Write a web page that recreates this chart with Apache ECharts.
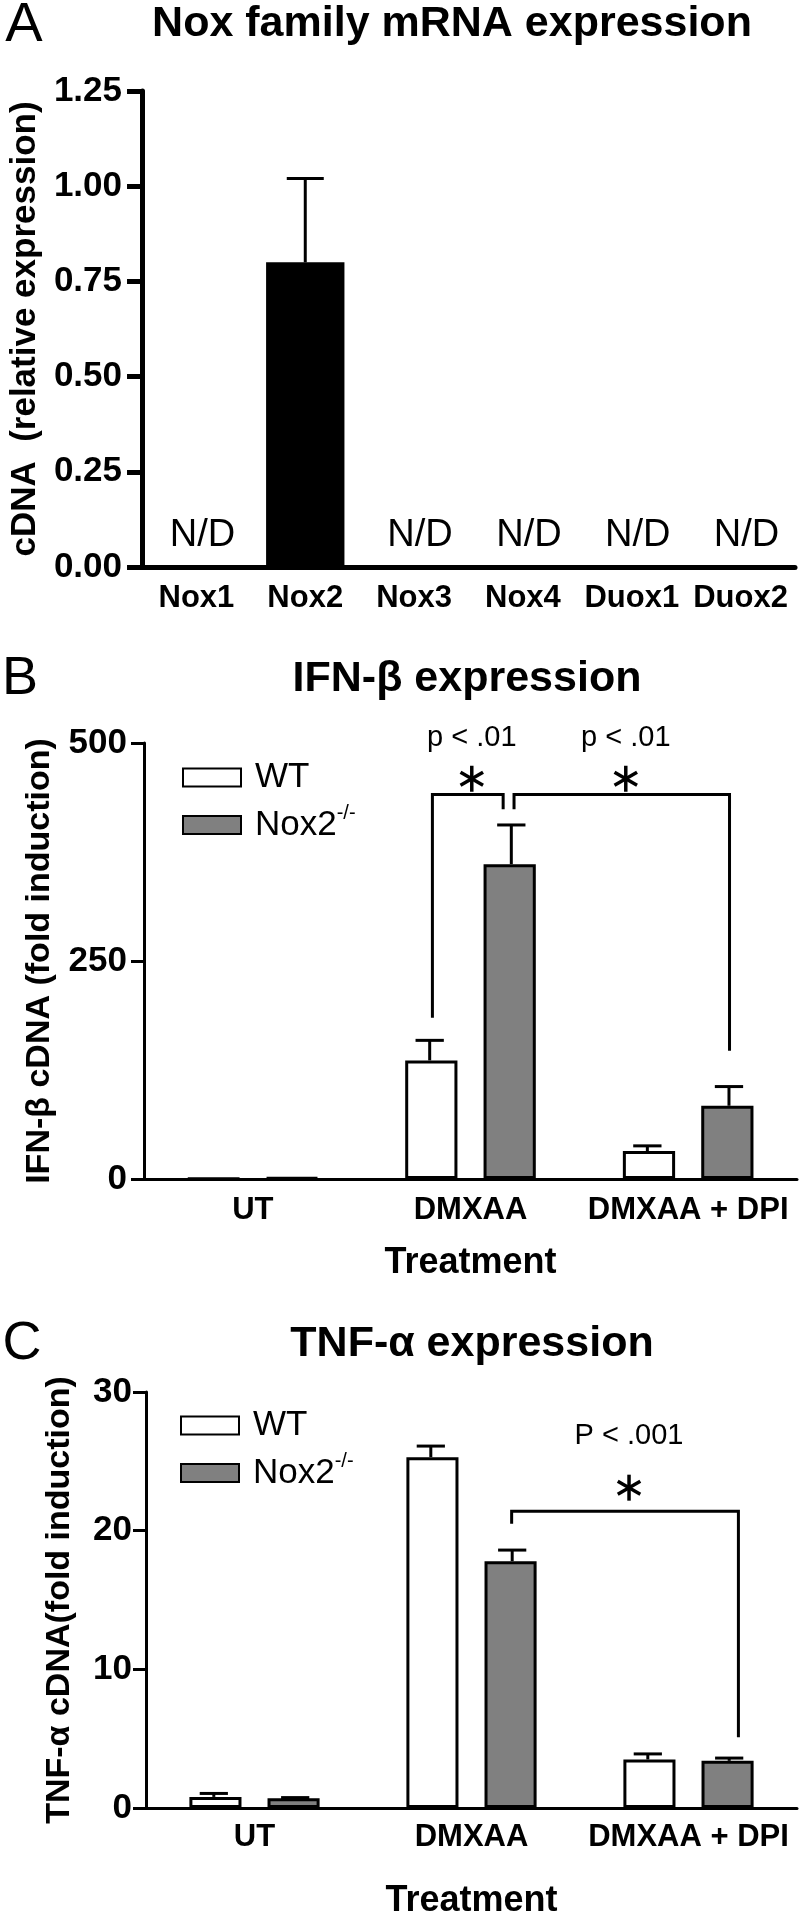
<!DOCTYPE html>
<html>
<head>
<meta charset="utf-8">
<title>Nox family, IFN-β and TNF-α expression</title>
<script src="https://cdn.jsdelivr.net/npm/echarts@6/dist/echarts.min.js"></script>
<style>
  html, body { margin: 0; padding: 0; background: #fff; }
  #chart { width: 800px; height: 1920px; }
</style>
</head>
<body>
<div id="chart"></div>
<script>
// panel A - Nox family mRNA (0 = N/D)
var noxGenes = ['Nox1', 'Nox2', 'Nox3', 'Nox4', 'Duox1', 'Duox2'];
var noxMean = [0, 0.80, 0, 0, 0, 0];
var noxErr = [0, 0.22, 0, 0, 0, 0];

// panels B / C
var treatments = ['UT', 'DMXAA', 'DMXAA + DPI'];
var ifnWT = [0.5, 136, 32];
var ifnWTErr = [0, 23, 6];
var ifnKO = [1.5, 361, 84];
var ifnKOErr = [0, 45, 22];
var tnfWT = [0.8, 25.3, 3.5];
var tnfWTErr = [0.25, 0.8, 0.4];
var tnfKO = [0.7, 17.8, 3.4];
var tnfKOErr = [0.05, 0.8, 0.2];

// brackets: [fromCat, fromShift, fromLow, top, toCat, toShift, toLow, starY, textY, text]
var ifnSig = [
    [1, -0.175, 185, 441, 1, 0.15, 424, 459, 506, 'p < .01'],
    [1, 0.2, 424, 441, 2, 0.19, 147, 459, 506, 'p < .01']
];
var tnfSig = [
    [1, 0.185, 20.5, 21.4, 2, 0.23, 5.1, 23.1, 26.8, 'P < .001']
];

var FONT = "'Liberation Sans', Arial, sans-serif";

function errorBars(shift, capFrac, lw) {
    return function (params, api) {
        if (!api.value(2)) return;
        var band = api.size([1, 0])[0];
        var x = api.coord([api.value(0), 0])[0] + shift * band;
        var y0 = api.coord([api.value(0), api.value(1)])[1];
        var y1 = api.coord([api.value(0), api.value(1) + api.value(2)])[1];
        var half = capFrac * band / 2;
        var st = { stroke: '#000', lineWidth: lw };
        return {
            type: 'group',
            children: [
                { type: 'line', shape: { x1: x, y1: y0, x2: x, y2: y1 }, style: st },
                { type: 'line', shape: { x1: x - half, y1: y1, x2: x + half, y2: y1 }, style: st }
            ]
        };
    };
}

function sigBrackets(rows) {
    return function (params, api) {
        var band = api.size([1, 0])[0];
        function pt(cat, shift, v) {
            var p = api.coord([cat, v]);
            return [p[0] + shift * band, p[1]];
        }
        var a = pt(api.value(0), api.value(1), api.value(2));
        var b = pt(api.value(0), api.value(1), api.value(3));
        var c = pt(api.value(4), api.value(5), api.value(3));
        var d = pt(api.value(4), api.value(5), api.value(6));
        var mx = (a[0] + d[0]) / 2 + 4;
        var sy = api.coord([0, api.value(7)])[1];
        var ty = api.coord([0, api.value(8)])[1];
        var r = 13;
        var st = { stroke: '#000', lineWidth: 3, fill: null };
        var ss = { stroke: '#000', lineWidth: 3.5 };
        return {
            type: 'group',
            children: [
                { type: 'polyline', shape: { points: [a, b, c, d] }, style: st },
                { type: 'line', shape: { x1: mx, y1: sy - r, x2: mx, y2: sy + r }, style: ss },
                { type: 'line', shape: { x1: mx - r * 0.866, y1: sy - r / 2, x2: mx + r * 0.866, y2: sy + r / 2 }, style: ss },
                { type: 'line', shape: { x1: mx - r * 0.866, y1: sy + r / 2, x2: mx + r * 0.866, y2: sy - r / 2 }, style: ss },
                {
                    type: 'text', x: mx, y: ty,
                    style: {
                        text: rows[params.dataIndex][9], fill: '#000',
                        fontSize: 29, fontFamily: FONT, align: 'center', verticalAlign: 'middle'
                    }
                }
            ]
        };
    };
}

function errData(mean, err) {
    return mean.map(function (m, i) { return [i, m, err[i]]; });
}
function sigData(rows) {
    return rows.map(function (r) { return r.slice(0, 9); });
}

function yAxisCfg(idx, max, interval, name, gap, nameSize, lw, tick, margin, digits) {
    return {
        type: 'value', gridIndex: idx, min: 0, max: max, interval: interval,
        name: name, nameLocation: 'middle', nameGap: gap,
        nameTextStyle: { fontSize: nameSize, fontWeight: 'bold', fontFamily: FONT, color: '#000' },
        axisLine: { show: true, lineStyle: { color: '#000', width: lw } },
        axisTick: { show: true, length: tick, lineStyle: { color: '#000', width: lw } },
        axisLabel: {
            fontSize: 35, fontWeight: 'bold', fontFamily: FONT, color: '#000', margin: margin,
            formatter: function (v) { return v.toFixed(digits); }
        },
        splitLine: { show: false }
    };
}

function xAxisCfg(idx, cats, lw, tick, margin, name, gap) {
    return {
        type: 'category', gridIndex: idx, data: cats,
        name: name, nameLocation: 'middle', nameGap: gap,
        nameTextStyle: { fontSize: 36, fontWeight: 'bold', fontFamily: FONT, color: '#000' },
        axisLine: { lineStyle: { color: '#000', width: lw } },
        axisTick: { alignWithLabel: true, length: tick, lineStyle: { color: '#000', width: lw } },
        axisLabel: { fontSize: 31, fontWeight: 'bold', fontFamily: FONT, color: '#000', margin: margin, interval: 0 }
    };
}

function legendCfg(left, top) {
    return {
        data: ['WT', 'Nox2'], orient: 'vertical', left: left, top: top,
        icon: 'rect', itemWidth: 58, itemHeight: 18, itemGap: 8,
        formatter: function (n) { return n === 'Nox2' ? '{a|Nox2}{s|-/-}' : '{a|WT}'; },
        textStyle: {
            color: '#000',
            rich: {
                a: { fontSize: 35, lineHeight: 44, fontFamily: FONT, color: '#000', padding: [0, 0, 0, 9] },
                s: { fontSize: 20, lineHeight: 20, fontFamily: FONT, color: '#000', verticalAlign: 'top' }
            }
        }
    };
}

function label(x, y, text, size, weight) {
    return {
        type: 'text', x: x, y: y,
        style: { text: text, fontSize: size, fontWeight: weight, fontFamily: FONT, fill: '#000', align: 'center', verticalAlign: 'middle' }
    };
}

var wtStyle = { color: '#fff', borderColor: '#000', borderWidth: 3 };
var koStyle = { color: '#808080', borderColor: '#000', borderWidth: 3 };

var option = {
    animation: false,
    backgroundColor: '#fff',
    graphic: [
        label(24, 26, 'A', 56, 'normal'),
        label(452, 24, 'Nox family mRNA expression', 43, 'bold'),
        label(20, 679, 'B', 54, 'normal'),
        label(467, 679, 'IFN-β expression', 43, 'bold'),
        label(22, 1344, 'C', 54, 'normal'),
        label(472, 1344, 'TNF-α expression', 43, 'bold')
    ],
    legend: [legendCfg(177, 755), legendCfg(175, 1403)],
    grid: [
        { left: 131, top: 91, width: 664, height: 476 },
        { left: 144, top: 743, width: 653, height: 436 },
        { left: 146, top: 1392, width: 651, height: 436 }
    ],
    xAxis: [
        xAxisCfg(0, noxGenes, 5, 15, 16, '', 0),
        xAxisCfg(1, treatments, 3, 13, 16, 'Treatment', 66),
        xAxisCfg(2, treatments, 3, 13, 14, 'Treatment', 75)
    ],
    yAxis: [
        yAxisCfg(0, 1.25, 0.25, 'cDNA  (relative expression)', 87, 35, 5, 15, 20, 2),
        yAxisCfg(1, 500, 250, 'IFN-β cDNA (fold induction)', 87, 34, 3, 13, 17, 0),
        yAxisCfg(2, 30, 10, 'TNF-α cDNA(fold induction)', 69, 34, 3, 13, 14, 0)
    ],
    series: [
        {
            type: 'bar', xAxisIndex: 0, yAxisIndex: 0, data: noxMean, barWidth: '72%',
            itemStyle: { color: '#000' },
            label: {
                show: true, position: 'top', distance: 12, offset: [6, 0],
                fontSize: 38, fontFamily: FONT, color: '#000',
                formatter: function (p) { return p.value === 0 ? 'N/D' : ''; }
            }
        },
        {
            type: 'custom', xAxisIndex: 0, yAxisIndex: 0, clip: false, z: 5,
            renderItem: errorBars(0, 0.34, 3), data: errData(noxMean, noxErr)
        },

        { type: 'bar', name: 'WT', xAxisIndex: 1, yAxisIndex: 1, data: ifnWT, barWidth: '24%', barGap: '50%', itemStyle: wtStyle },
        { type: 'bar', name: 'Nox2', xAxisIndex: 1, yAxisIndex: 1, data: ifnKO, barWidth: '24%', barGap: '50%', itemStyle: koStyle },
        { type: 'custom', xAxisIndex: 1, yAxisIndex: 1, clip: false, z: 5, renderItem: errorBars(-0.1875, 0.13, 3), data: errData(ifnWT, ifnWTErr) },
        { type: 'custom', xAxisIndex: 1, yAxisIndex: 1, clip: false, z: 5, renderItem: errorBars(0.1875, 0.13, 3), data: errData(ifnKO, ifnKOErr) },
        { type: 'custom', xAxisIndex: 1, yAxisIndex: 1, clip: false, z: 5, renderItem: sigBrackets(ifnSig), data: sigData(ifnSig) },

        { type: 'bar', name: 'WT', xAxisIndex: 2, yAxisIndex: 2, data: tnfWT, barWidth: '24%', barGap: '50%', itemStyle: wtStyle },
        { type: 'bar', name: 'Nox2', xAxisIndex: 2, yAxisIndex: 2, data: tnfKO, barWidth: '24%', barGap: '50%', itemStyle: koStyle },
        { type: 'custom', xAxisIndex: 2, yAxisIndex: 2, clip: false, z: 5, renderItem: errorBars(-0.1875, 0.13, 3), data: errData(tnfWT, tnfWTErr) },
        { type: 'custom', xAxisIndex: 2, yAxisIndex: 2, clip: false, z: 5, renderItem: errorBars(0.1875, 0.13, 3), data: errData(tnfKO, tnfKOErr) },
        { type: 'custom', xAxisIndex: 2, yAxisIndex: 2, clip: false, z: 5, renderItem: sigBrackets(tnfSig), data: sigData(tnfSig) }
    ]
};

var myChart = echarts.init(document.getElementById('chart'));
myChart.setOption(option);
window.addEventListener('resize', function () {
    myChart.resize();
});
</script>
</body>
</html>
